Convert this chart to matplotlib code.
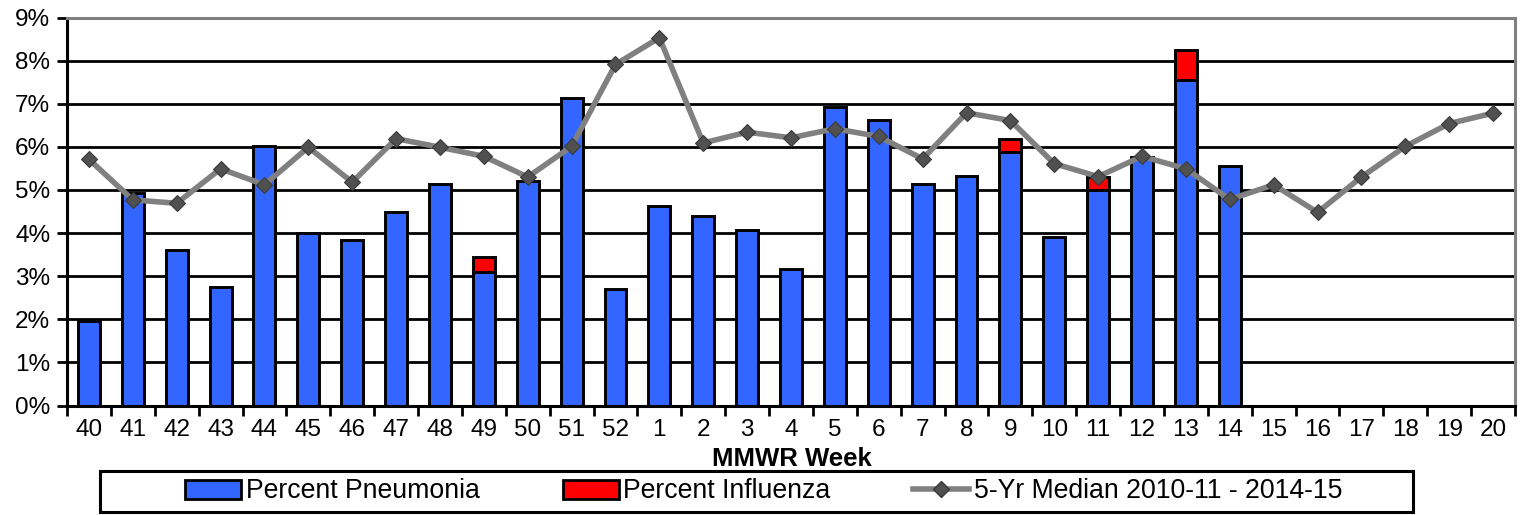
import matplotlib
matplotlib.use("Agg")
import matplotlib.pyplot as plt
import numpy as np
from matplotlib.lines import Line2D
from matplotlib.patches import Patch, Rectangle

weeks = ["40", "41", "42", "43", "44", "45", "46", "47", "48", "49", "50", "51", "52",
         "1", "2", "3", "4", "5", "6", "7", "8", "9", "10", "11", "12", "13", "14",
         "15", "16", "17", "18", "19", "20"]
pneumonia = [1.95, 4.93, 3.60, 2.75, 6.03, 4.00, 3.85, 4.48, 5.14, 3.09, 5.20, 7.13, 2.70,
             4.62, 4.39, 4.08, 3.17, 6.92, 6.63, 5.14, 5.32, 5.89, 3.92, 5.01, 5.76, 7.54, 5.55]
influenza = [0.0, 0.0, 0.0, 0.0, 0.0, 0.0, 0.0, 0.0, 0.0, 0.35, 0.0, 0.0, 0.0,
             0.0, 0.0, 0.0, 0.0, 0.0, 0.0, 0.0, 0.0, 0.30, 0.0, 0.30, 0.0, 0.71, 0.0]
median5yr = [5.71, 4.77, 4.69, 5.49, 5.12, 5.99, 5.18, 6.19, 5.99, 5.78, 5.30, 6.01, 7.91,
             8.53, 6.09, 6.34, 6.21, 6.42, 6.24, 5.72, 6.79, 6.61, 5.61, 5.31, 5.78, 5.49, 4.78,
             5.12, 4.48, 5.30, 6.01, 6.54, 6.78]
yticks = [0, 1, 2, 3, 4, 5, 6, 7, 8, 9]

plt.rcParams['font.family'] = ['Liberation Sans', 'DejaVu Sans']

W, H = 1528, 515
fig = plt.figure(figsize=(W / 100, H / 100), dpi=100)
ax = fig.add_axes([67/W, 1 - 405.5/H, (1515-67)/W, (405.5-17.5)/H])

n = len(weeks)
x = np.arange(n)
nb = len(pneumonia)
blue = "#3366FF"
red = "#FF0000"
edge_lw = 2.1

ax.set_ylim(0, 9)
ax.set_xlim(-0.5, n - 0.5)
for yv in yticks[1:-1]:
    ax.axhline(yv, color="black", lw=2.0, zorder=1)

ax.bar(x[:nb], pneumonia, width=0.5, color=blue, edgecolor="black", linewidth=edge_lw, zorder=2)
infl_bars = ax.bar(x[:nb], influenza, width=0.5, bottom=pneumonia, color=red, edgecolor="black",
                   linewidth=edge_lw, zorder=2)
for p, v in zip(infl_bars, influenza):
    if v == 0:
        p.set_visible(False)

ax.plot(x, median5yr, color="#808080", lw=4.0, marker="D", markersize=8,
        markerfacecolor="#505050", markeredgecolor="#3a3a3a", markeredgewidth=0.8, zorder=3)

ax.set_yticks(yticks)
ax.set_yticklabels([f"{v}%" for v in yticks], fontsize=17.5)
ax.set_xticks(x)
ax.set_xticklabels(weeks, fontsize=17.5)
ax.tick_params(axis="x", length=0, pad=10)
ax.set_xticks(np.arange(-0.5, n, 1.0), minor=True)
ax.tick_params(axis="x", which="minor", length=7, width=2, direction="out", color="black")
ax.tick_params(axis="y", length=7, width=2, direction="out", pad=5)

for s in ["left", "bottom"]:
    ax.spines[s].set_color("black")
    ax.spines[s].set_linewidth(2.2)
for s in ["top", "right"]:
    ax.spines[s].set_color("#808080")
    ax.spines[s].set_linewidth(2.2)

fig.text(792/W, 1 - 459/H, "MMWR Week", fontsize=18.5, fontweight="bold",
         ha="center", va="center")

handles = [Patch(facecolor=blue, edgecolor="black", linewidth=2),
           Patch(facecolor=red, edgecolor="black", linewidth=2),
           Line2D([0], [0], color="#808080", lw=4.0, marker="D", markersize=8,
                  markerfacecolor="#505050", markeredgecolor="#3a3a3a")]
labels = ["Percent Pneumonia", "Percent Influenza", "5-Yr Median 2010-11 - 2014-15"]
leg = fig.legend(handles, labels, loc="center", bbox_to_anchor=(764/W, 1 - 491.5/H),
                 ncol=3, fontsize=19.2, frameon=False, columnspacing=3.1,
                 handlelength=2.1, handletextpad=0.18, borderpad=0.2)

fig.add_artist(Rectangle((100/W, 1 - 512/H), (1413-100)/W, (512-471)/H,
                         transform=fig.transFigure, fill=False, edgecolor="black",
                         linewidth=2.2))

fig.savefig("out.png", dpi=100)
